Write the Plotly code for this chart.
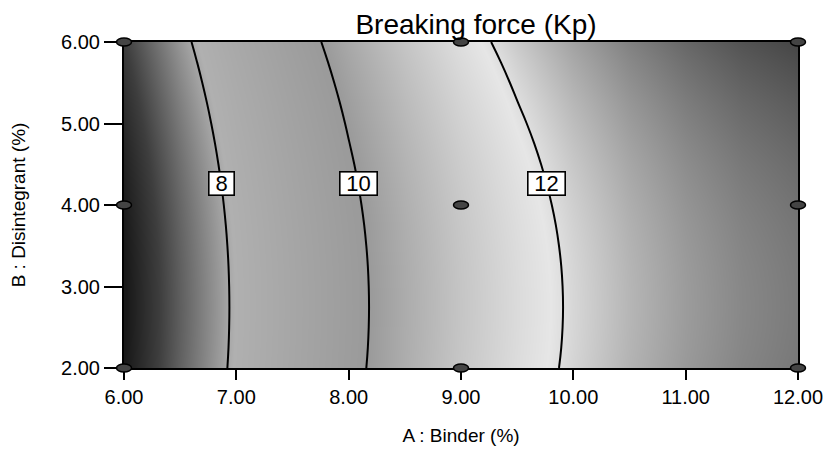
import numpy as np
import plotly.graph_objects as go

# Response grid: breaking force (Kp) along the binder axis at 2 % disintegrant,
# plus the change in force at each disintegrant level.
binder = [6.0, 6.5, 7.0, 7.5, 8.0, 8.5, 9.0, 9.5, 10.0, 10.5, 11.0, 11.5, 12.0]
force_at_low_disintegrant = [6.20, 7.21, 8.15, 9.00, 9.78, 10.48, 11.11,
                             11.65, 12.12, 12.52, 12.83, 13.07, 13.23]
disintegrant = [2.0, 2.25, 2.5, 2.75, 3.0, 3.25, 3.5, 3.75, 4.0,
                4.25, 4.5, 4.75, 5.0, 5.25, 5.5, 5.75, 6.0]
disintegrant_shift = [0.000, -0.019, -0.030, -0.034, -0.030, -0.019, 0.000, 0.026, 0.060,
                      0.101, 0.150, 0.206, 0.270, 0.341, 0.420, 0.506, 0.600]

contour_levels = [8, 10, 12]
label_disintegrant = 4.26

# 3x3 factorial design points
design_binder = [6, 6, 6, 9, 9, 9, 12, 12, 12]
design_disintegrant = [2, 4, 6, 2, 4, 6, 2, 4, 6]

x_ticks = [6, 7, 8, 9, 10, 11, 12]
y_ticks = [2, 3, 4, 5, 6]

force = np.add.outer(np.array(disintegrant_shift), np.array(force_at_low_disintegrant))

# Grey rendering of the blue-cyan-green-yellow-red ramp
zmin, zmax = 6.2, 13.8
grey_scale = [
    [0.00, "rgb(24,24,24)"],
    [0.08, "rgb(62,62,62)"],
    [0.25, "rgb(176,176,176)"],
    [0.50, "rgb(154,154,154)"],
    [0.75, "rgb(230,230,230)"],
    [1.00, "rgb(72,72,72)"],
]

FONT = "Liberation Sans, Arial, sans-serif"
W, H = 834, 450
margin = dict(l=104, r=16, t=22, b=62, autoexpand=False)
plot_left, plot_right, plot_top, plot_bottom = 124, 798, 42, 368
area_w = W - margin["l"] - margin["r"]
area_h = H - margin["t"] - margin["b"]
xd = [(plot_left - margin["l"]) / area_w, (plot_right - margin["l"]) / area_w]
yd = [(H - margin["b"] - plot_bottom) / area_h, (H - margin["b"] - plot_top) / area_h]

xr = [6, 12]
yr = [2, 6]
# overlay axes spanning the whole area, sharing the main pixel scale
xspan = (xr[1] - xr[0]) / (xd[1] - xd[0])
yspan = (yr[1] - yr[0]) / (yd[1] - yd[0])
xr2 = [xr[0] - xd[0] * xspan, xr[0] + (1 - xd[0]) * xspan]
yr2 = [yr[0] - yd[0] * yspan, yr[0] + (1 - yd[0]) * yspan]

fig = go.Figure()

fig.add_trace(go.Heatmap(
    x=binder, y=disintegrant, z=force, zsmooth="best",
    colorscale=grey_scale, zmin=zmin, zmax=zmax, showscale=False,
    hovertemplate="A: %{x:.2f}<br>B: %{y:.2f}<br>Force: %{z:.2f}<extra></extra>",
))

fig.add_trace(go.Contour(
    x=binder, y=disintegrant, z=force,
    contours=dict(start=contour_levels[0], end=contour_levels[-1],
                  size=contour_levels[1] - contour_levels[0], coloring="none"),
    line=dict(color="black", width=2, smoothing=1.3), showscale=False, hoverinfo="skip",
))

fig.add_trace(go.Scatter(
    x=design_binder, y=design_disintegrant, xaxis="x2", yaxis="y2",
    mode="markers", marker=dict(size=12, opacity=0), showlegend=False,
    hovertemplate="Design point<br>A: %{x:.2f}<br>B: %{y:.2f}<extra></extra>",
))

# design points as flattened ellipses
for a, b in zip(design_binder, design_disintegrant):
    fig.add_shape(type="circle", xref="x2", yref="y2",
                  xsizemode="pixel", ysizemode="pixel",
                  xanchor=a, yanchor=b, x0=-7.5, x1=7.5, y0=-4, y1=4,
                  fillcolor="rgb(68,68,68)", line=dict(color="black", width=1.5),
                  layer="above")

# boxed contour labels placed where each level crosses the label row
row = np.array(force_at_low_disintegrant) + np.interp(label_disintegrant, disintegrant, disintegrant_shift)
for lev in contour_levels:
    a = float(np.interp(lev, row, binder))
    txt = str(lev)
    fig.add_annotation(x=a, y=label_disintegrant, text=txt, showarrow=False,
                       font=dict(family=FONT, size=22, color="black"),
                       width=12 + 12 * len(txt), height=22, align="center", valign="middle",
                       bgcolor="white", bordercolor="black", borderwidth=1.6, borderpad=0)

axis_common = dict(showgrid=False, zeroline=False, showline=True, linecolor="black",
                   linewidth=2, mirror=True, ticks="outside", tickcolor="black",
                   tickwidth=2.2, tickformat=".2f", automargin=False,
                   tickfont=dict(family=FONT, size=20, color="black"))

fig.update_layout(
    width=W, height=H, margin=margin,
    paper_bgcolor="white", plot_bgcolor="rgba(0,0,0,0)",
    showlegend=False,
    title=dict(text="Breaking force (Kp)", x=476 / W, xanchor="center",
               y=1 - 24 / H, yanchor="middle", yref="container", automargin=False,
               font=dict(family=FONT, size=28, color="black")),
    xaxis=dict(axis_common, domain=xd, range=xr, tickvals=x_ticks, ticklen=10, anchor="y",
               title=dict(text="A : Binder (%)", standoff=22,
                          font=dict(family=FONT, size=19, color="black"))),
    yaxis=dict(axis_common, domain=yd, range=yr, tickvals=y_ticks, ticklen=18, anchor="x",
               title=dict(text="B : Disintegrant (%)", standoff=30,
                          font=dict(family=FONT, size=19, color="black"))),
    xaxis2=dict(domain=[0, 1], range=xr2, visible=False, anchor="y2", fixedrange=True,
                automargin=False),
    yaxis2=dict(domain=[0, 1], range=yr2, visible=False, anchor="x2", fixedrange=True,
                automargin=False),
)

fig.write_html("out.html")
